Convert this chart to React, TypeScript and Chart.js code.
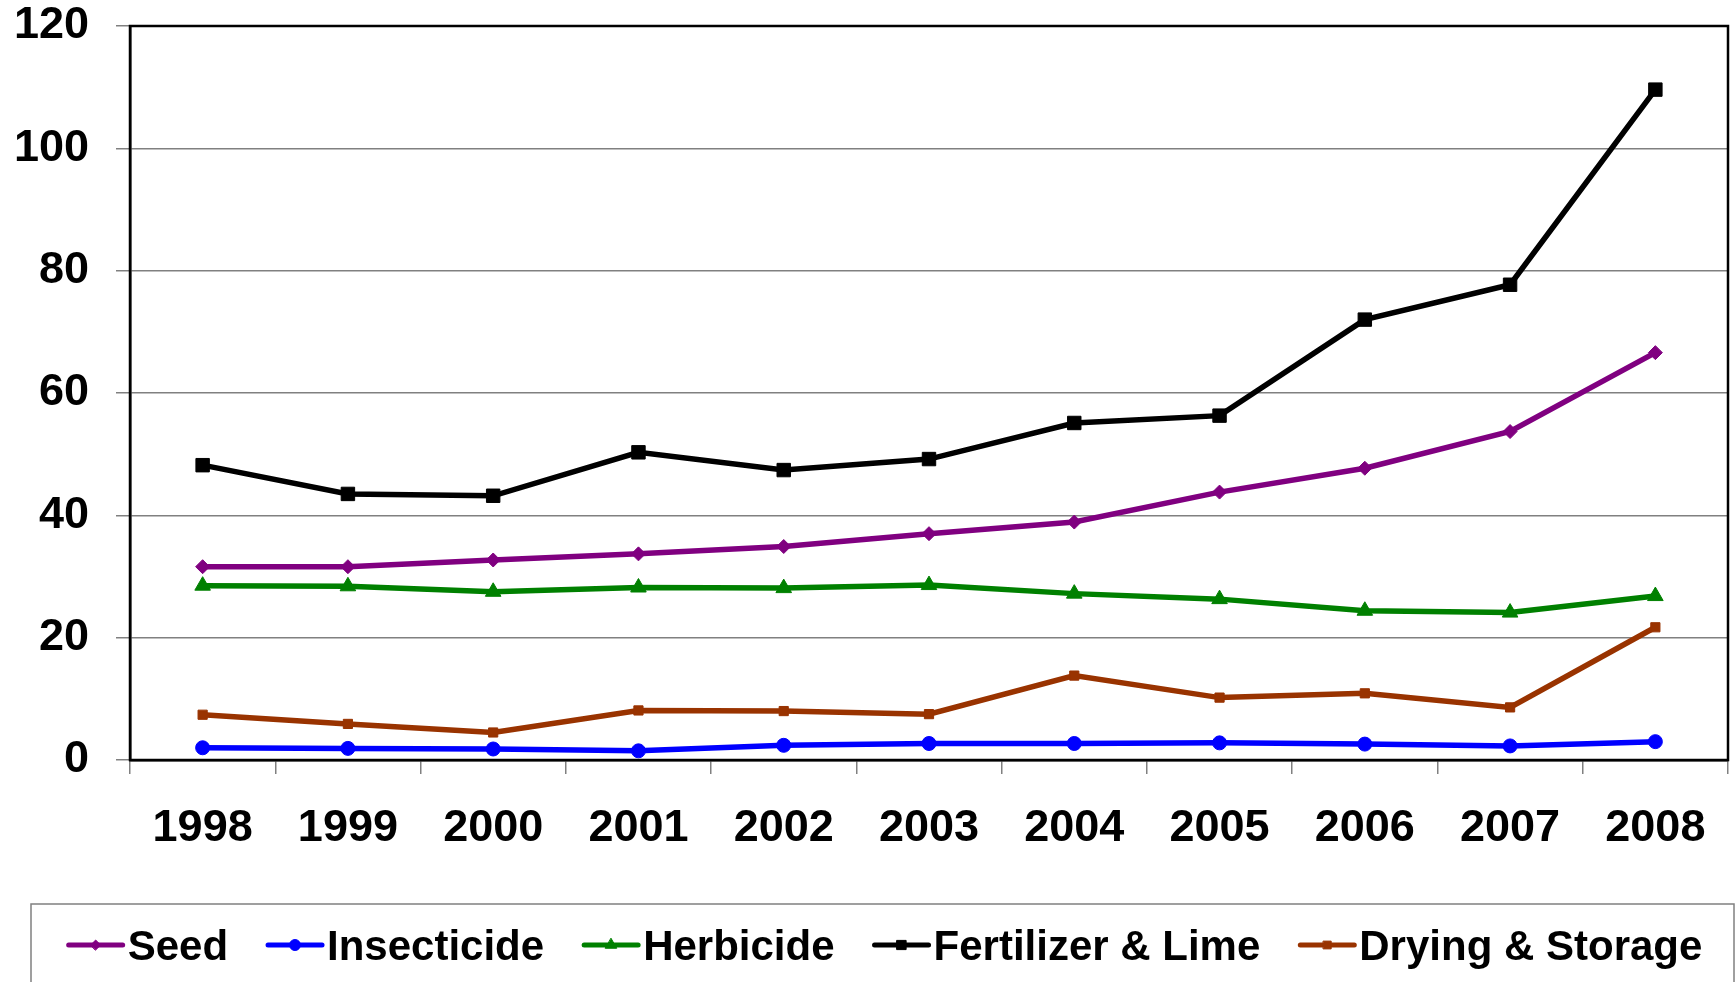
import React, { useEffect, useRef } from 'react';
import { Chart, registerables } from 'chart.js';
import { drawPoint } from 'chart.js/helpers';

Chart.register(...registerables);

const years = ['1998', '1999', '2000', '2001', '2002', '2003', '2004', '2005', '2006', '2007', '2008'];
const seed = [31.6, 31.6, 32.7, 33.7, 34.9, 37.0, 38.9, 43.8, 47.7, 53.7, 66.6];
const insecticide = [2.0, 1.9, 1.8, 1.5, 2.4, 2.7, 2.7, 2.8, 2.6, 2.3, 3.0];
const herbicide = [28.5, 28.4, 27.5, 28.2, 28.1, 28.6, 27.2, 26.3, 24.4, 24.1, 26.8];
const fertilizer = [48.2, 43.5, 43.2, 50.3, 47.4, 49.2, 55.1, 56.3, 72.0, 77.7, 109.6];
const drying = [7.4, 5.9, 4.5, 8.1, 8.0, 7.5, 13.8, 10.2, 10.9, 8.6, 21.7];

const yMin = 0;
const yMax = 120;
const yStep = 20;

const FONT = '"Liberation Sans", Arial, Helvetica, sans-serif';

const seriesDefs = [
  { label: 'Seed', data: seed, color: '#800080', style: 'rectRot', radius: 7, legendRadius: 5 },
  { label: 'Insecticide', data: insecticide, color: '#0000FF', style: 'circle', radius: 7, legendRadius: 5.5 },
  { label: 'Herbicide', data: herbicide, color: '#008000', style: 'triangle', radius: 9, legendRadius: 6.5 },
  { label: 'Fertilizer & Lime', data: fertilizer, color: '#000000', style: 'rect', radius: 9.5, legendRadius: 6.5 },
  { label: 'Drying & Storage', data: drying, color: '#993300', style: 'rect', radius: 6.5, legendRadius: 5.5 },
];

const frameAndLegend = {
  id: 'frameAndLegend',
  afterDraw(chart: any) {
    const ctx = chart.ctx;
    const area = chart.chartArea;
    ctx.save();
    // plot frame
    ctx.strokeStyle = '#000';
    ctx.lineWidth = 2.5;
    ctx.strokeRect(area.left, area.top, area.right - area.left, area.bottom - area.top);

    // legend box
    const boxLeft = 31;
    const boxRight = chart.width - 1;
    const boxTop = area.bottom + 144;
    const boxBottom = chart.height + 5;
    ctx.strokeStyle = '#808080';
    ctx.lineWidth = 1.5;
    ctx.strokeRect(boxLeft, boxTop, boxRight - boxLeft, boxBottom - boxTop);

    const fontSize = 42;
    ctx.font = `bold ${fontSize}px ${FONT}`;
    const sampleW = 54;
    const textGap = 5;
    const itemGap = 40;
    const widths = seriesDefs.map((s) => ctx.measureText(s.label).width);
    const total = widths.reduce((a, b) => a + b, 0) + seriesDefs.length * (sampleW + textGap) + (seriesDefs.length - 1) * itemGap;
    let x = (boxLeft + boxRight) / 2 + 3 - total / 2;
    const cy = boxTop + 41;
    seriesDefs.forEach((s, i) => {
      ctx.strokeStyle = s.color;
      ctx.lineWidth = 5;
      ctx.lineCap = 'round';
      ctx.beginPath();
      ctx.moveTo(x, cy);
      ctx.lineTo(x + sampleW, cy);
      ctx.stroke();
      ctx.fillStyle = s.color;
      ctx.lineWidth = 1;
      drawPoint(ctx, { pointStyle: s.style, radius: s.legendRadius, rotation: 0, borderWidth: 1 } as any, x + sampleW / 2, cy);
      ctx.fillStyle = '#000';
      ctx.textBaseline = 'alphabetic';
      ctx.textAlign = 'left';
      ctx.fillText(s.label, x + sampleW + textGap, cy + 15);
      x += sampleW + textGap + widths[i] + itemGap;
    });
    ctx.restore();
  },
};

export default function App() {
  const ref = useRef<HTMLCanvasElement | null>(null);

  useEffect(() => {
    document.body.style.margin = '0';
    const canvas = ref.current;
    if (!canvas) return;
    const chart = new Chart(canvas, {
      type: 'line',
      data: {
        labels: years,
        datasets: seriesDefs.map((s) => ({
          label: s.label,
          data: s.data,
          borderColor: s.color,
          backgroundColor: s.color,
          borderWidth: 5.5,
          pointStyle: s.style as any,
          pointRadius: s.radius,
          pointBorderWidth: 1,
          pointBorderColor: s.color,
          pointBackgroundColor: s.color,
          tension: 0,
          fill: false,
        })),
      },
      options: {
        responsive: false,
        devicePixelRatio: 1,
        animation: false,
        events: [],
        layout: { autoPadding: false, padding: { top: 0, right: 7, left: 0, bottom: 0 } },
        plugins: {
          legend: { display: false },
          tooltip: { enabled: false },
          title: { display: false },
        },
        scales: {
          x: {
            type: 'category',
            offset: true,
            grid: {
              offset: true,
              drawOnChartArea: false,
              drawTicks: true,
              tickLength: 14,
              color: '#808080',
              lineWidth: 1.5,
            },
            border: { display: true, color: '#000', width: 2.5 },
            ticks: {
              font: { family: FONT, size: 45, weight: 'bold' },
              color: '#000',
              padding: 28,
              maxRotation: 0,
              autoSkip: false,
            },
            afterFit: (s: any) => {
              s.height = 222;
              s.paddingLeft = 0;
              s.paddingRight = 0;
            },
          },
          y: {
            min: yMin,
            max: yMax,
            ticks: {
              stepSize: yStep,
              font: { family: FONT, size: 45, weight: 'bold' },
              color: '#000',
              padding: 27,
            },
            grid: {
              color: '#808080',
              lineWidth: 1.5,
              tickLength: 14,
              drawTicks: true,
            },
            border: { display: true, color: '#000', width: 2.5 },
            afterFit: (s: any) => {
              s.width = 130;
              s.paddingTop = 26;
              s.paddingBottom = 0;
              s.paddingLeft = 0;
              s.paddingRight = 0;
            },
          },
        },
      },
      plugins: [frameAndLegend],
    });
    return () => chart.destroy();
  }, []);

  return (
    <div style={{ width: 1735, height: 982, background: '#fff' }}>
      <canvas ref={ref} width={1735} height={982} style={{ display: 'block' }} />
    </div>
  );
}
